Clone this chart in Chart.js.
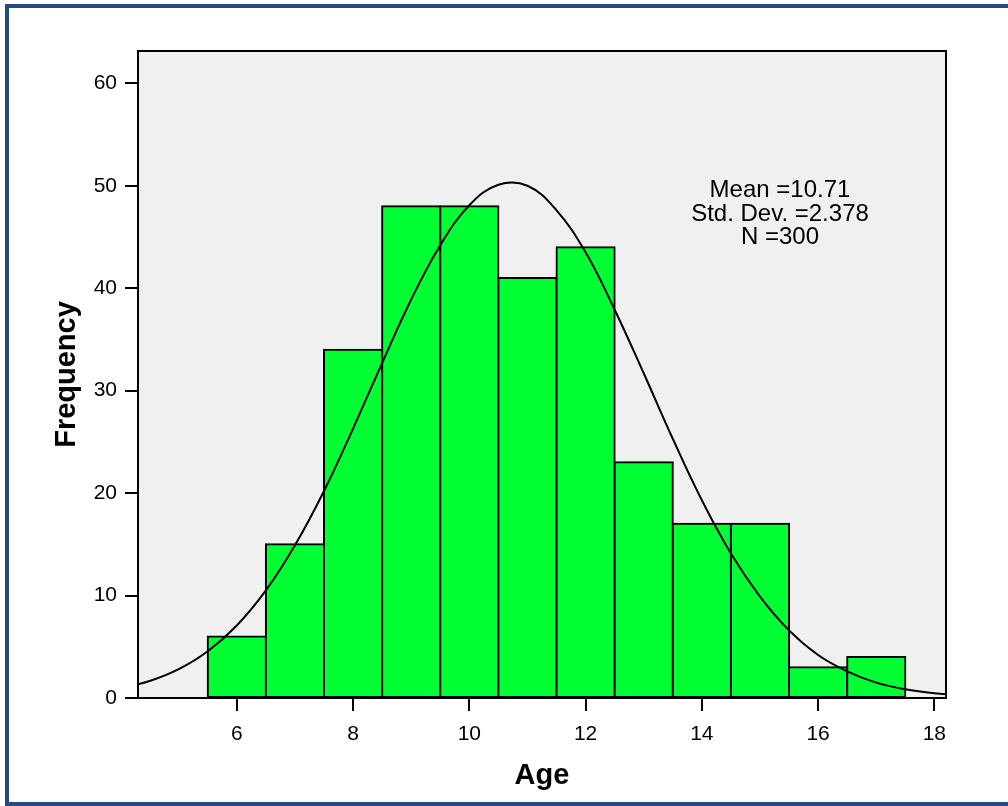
<!DOCTYPE html>
<html>
<head>
<meta charset="utf-8">
<script src="https://cdn.jsdelivr.net/npm/chart.js@4.4.1/dist/chart.umd.min.js"></script>
<style>
  html, body { margin: 0; padding: 0; background: #fff; overflow: hidden; }
  #wrap { position: relative; width: 1008px; height: 806px; overflow: hidden; }
  #frame {
    position: absolute; left: 5px; top: 4px; width: 1020px; height: 802px;
    box-sizing: border-box; border: 4px solid #224b80; pointer-events: none;
  }
  canvas { position: absolute; left: 0; top: 0; }
</style>
</head>
<body>
<div id="wrap">
  <canvas id="hist" width="1008" height="806"></canvas>
  <div id="frame"></div>
</div>
<script>
// histogram bins (bin centres) and counts
const ageBins = [6, 7, 8, 9, 10, 11, 12, 13, 14, 15, 16, 17];
const frequency = [6, 15, 34, 48, 48, 41, 44, 23, 17, 17, 3, 4];

// normal curve
const curveAge = [4, 4.5, 5, 5.5, 6, 6.5, 7, 7.5, 8, 8.5, 9, 9.5, 10, 10.5, 11, 11.5, 12, 12.5, 13, 13.5, 14, 14.5, 15, 15.5, 16, 16.5, 17, 17.5, 18, 18.5];
const curveFreq = [0.94, 1.66, 2.82, 4.57, 7.08, 10.5, 14.9, 20.2, 26.3, 32.7, 38.9, 44.2, 48.1, 50.1, 50.0, 47.6, 43.5, 37.9, 31.7, 25.3, 19.3, 14.1, 9.9, 6.6, 4.2, 2.6, 1.5, 0.85, 0.46, 0.24];

const xTicks = [6, 8, 10, 12, 14, 16, 18];
const yTicks = [0, 10, 20, 30, 40, 50, 60];
const statLines = ["Mean =10.71", "Std. Dev. =2.378", "N =300"];

const FONT = "'Liberation Sans', Arial, Helvetica, sans-serif";

const plotFrame = {
  id: "plotFrame",
  beforeDatasetsDraw(chart) {
    const { ctx, chartArea: a } = chart;
    ctx.save();
    ctx.fillStyle = "#f0f0f0";
    ctx.fillRect(a.left, a.top, a.right - a.left, a.bottom - a.top);
    ctx.restore();
  },
  afterDraw(chart) {
    const { ctx, chartArea: a } = chart;
    ctx.save();
    ctx.strokeStyle = "#000";
    ctx.lineWidth = 2;
    ctx.strokeRect(a.left, a.top, a.right - a.left, a.bottom - a.top);
    // stats box
    ctx.fillStyle = "#000";
    ctx.font = "24px " + FONT;
    ctx.textAlign = "center";
    ctx.textBaseline = "alphabetic";
    statLines.forEach((t, i) => ctx.fillText(t, 780, 197 + i * 23.5));
    ctx.restore();
  }
};

new Chart(document.getElementById("hist"), {
  type: "bar",
  data: {
    datasets: [
      {
        type: "line",
        data: curveAge.map((x, i) => ({ x: x, y: curveFreq[i] })),
        borderColor: "#000",
        borderWidth: 2,
        pointRadius: 0,
        tension: 0.4,
        fill: false,
        order: 0
      },
      {
        data: ageBins.map((x, i) => ({ x: x, y: frequency[i] })),
        backgroundColor: "#00ff33",
        borderColor: "#000",
        borderWidth: 2,
        borderSkipped: false,
        inflateAmount: 1,
        barPercentage: 1,
        categoryPercentage: 1,
        order: 1
      }
    ]
  },
  options: {
    responsive: false,
    animation: false,
    layout: { padding: { left: 50, top: 51, right: 62, bottom: 0 } },
    plugins: {
      legend: { display: false },
      tooltip: { enabled: false }
    },
    scales: {
      x: {
        type: "linear",
        offset: false,
        min: 4.3,
        max: 18.2,
        afterBuildTicks: (s) => { s.ticks = xTicks.map((v) => ({ value: v })); },
        afterFit: (s) => { s.height = 108; },
        ticks: { color: "#000", font: { family: FONT, size: 21 }, padding: 11, maxRotation: 0 },
        grid: { offset: false, drawOnChartArea: false, drawTicks: true, tickLength: 13, color: "#000", lineWidth: 2 },
        border: { display: true, color: "#000", width: 2 },
        title: { display: true, text: "Age", color: "#000", font: { family: FONT, size: 29, weight: "bold" }, padding: { top: 0, bottom: 13 } }
      },
      y: {
        min: 0,
        max: 63.15,
        afterBuildTicks: (s) => { s.ticks = yTicks.map((v) => ({ value: v })); },
        afterFit: (s) => { s.width = 88; },
        ticks: { color: "#000", font: { family: FONT, size: 21 }, padding: 8 },
        grid: { drawOnChartArea: false, drawTicks: true, tickLength: 13, color: "#000", lineWidth: 2 },
        border: { display: true, color: "#000", width: 2 },
        title: { display: true, text: "Frequency", color: "#000", font: { family: FONT, size: 29, weight: "bold" }, padding: { top: 0, bottom: 0 } }
      }
    }
  },
  plugins: [plotFrame]
});
</script>
</body>
</html>
